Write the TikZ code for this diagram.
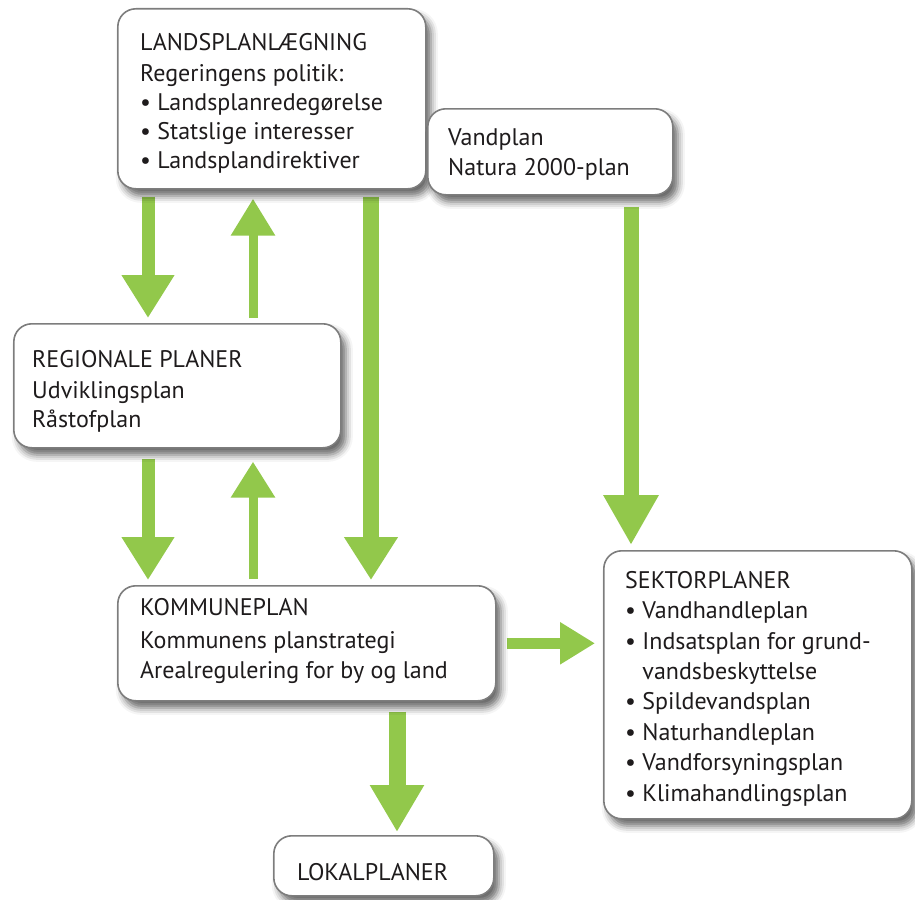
\documentclass[tikz,border=0pt]{standalone}
\usepackage{fontspec}
\setmainfont{PT Sans}
\usetikzlibrary{arrows.meta,calc,shadows.blur}
\definecolor{leaf}{RGB}{146,200,75}
\definecolor{frame}{RGB}{125,125,125}
\definecolor{ink}{RGB}{30,27,28}
\pgfdeclarelayer{background}
\pgfsetlayers{background,main}
\tikzset{
  box/.style={draw=frame, line width=1.6pt, fill=white, rounded corners=18pt, anchor=north west,
    blur shadow={shadow xshift=5pt, shadow yshift=-7pt, shadow blur radius=7pt, shadow opacity=60}},
  txt/.style={anchor=base west, align=left, inner sep=0pt, text=ink, font=\fontsize{24}{29}\selectfont},
  garrow/.style={draw=leaf, line width=#1},
  bigtip/.style={-{Triangle[width=50pt,length=43pt]}},
  smalltip/.style={-{Triangle[width=42pt,length=37pt]}},
}
\begin{document}
\begin{tikzpicture}[x=1pt,y=-1pt]
\useasboundingbox (0,0) rectangle (915,899);
% boxes
\node[box, minimum width=308pt, minimum height=180pt] (land) at (117,8) {};
\node[box, minimum width=245pt, minimum height=86pt] (vand) at (427,108) {};
\node[box, minimum width=327pt, minimum height=124pt] (reg) at (13,323) {};
\node[box, minimum width=378pt, minimum height=115pt] (kom) at (117,585) {};
\node[box, minimum width=308pt, minimum height=268pt] (sekt) at (603,550) {};
\node[box, minimum width=220pt, minimum height=60pt] (lok) at (273,835) {};
% texts (anchored at the baseline of their last line)
\node[txt] (landt) at (140,168) {LANDSPLANLÆGNING\\[2pt]Regeringens politik:\\• Landsplanredegørelse\\• Statslige interesser\\• Landsplandirektiver};
\node[txt, font=\fontsize{24}{30}\selectfont] (vandt) at (448,175) {Vandplan\\Natura 2000-plan};
\node[txt] (regt) at (32,427) {REGIONALE PLANER\\[2pt]Udviklingsplan\\Råstofplan};
\node[txt, font=\fontsize{24}{30}\selectfont] (komt) at (140,678) {KOMMUNEPLAN\\[3pt]Kommunens planstrategi\\Arealregulering for by og land};
\node[txt, font=\fontsize{24}{30.4}\selectfont] (sektt) at (625,801) {SEKTORPLANER\\• Vandhandleplan\\• Indsatsplan for grund-\\\hphantom{•\ }vandsbeskyttelse\\• Spildevandsplan\\• Naturhandleplan\\• Vandforsyningsplan\\• Klimahandlingsplan};
\node[txt] (lokt) at (297,880) {LOKALPLANER};
% arrows
\coordinate (a1) at ($(land.south west)+(31,7)$);
\coordinate (a2) at ($(reg.north west)+(240,-5)$);
\coordinate (a3) at ($(land.south west)+(254,7)$);
\coordinate (a4) at ($(vand.south west)+(204,11)$);
\coordinate (a5) at ($(reg.south west)+(135,10)$);
\coordinate (a6) at ($(kom.north west)+(136,-6)$);
\coordinate (a7) at ($(kom.east)+(10,0)$);
\coordinate (a8) at ($(kom.south west)+(280,10)$);
\begin{pgfonlayer}{background}
\draw[garrow=13pt, bigtip, shorten >=5pt] (a1) -- (a1 |- reg.north);
\draw[garrow=9pt, smalltip, shorten >=9pt] (a2) -- (a2 |- land.south);
\draw[garrow=16pt, -{Triangle[width=51pt,length=43pt]}, shorten >=5pt] (a3) -- (a3 |- kom.north);
\draw[garrow=15pt, -{Triangle[width=52pt,length=50pt]}, shorten >=5pt] (a4) -- (a4 |- sekt.north);
\draw[garrow=13pt, bigtip, shorten >=5pt] (a5) -- (a5 |- kom.north);
\draw[garrow=9pt, -{Triangle[width=42pt,length=36pt]}, shorten >=13pt] (a6) -- (a6 |- reg.south);
\draw[garrow=11pt, -{Triangle[width=40pt,length=35pt]}, shorten >=8pt] (a7) -- (a7 -| sekt.west);
\draw[garrow=17pt, -{Triangle[width=51pt,length=47pt]}, shorten >=3pt] (a8) -- (a8 |- lok.north);
\end{pgfonlayer}
\end{tikzpicture}
\end{document}
